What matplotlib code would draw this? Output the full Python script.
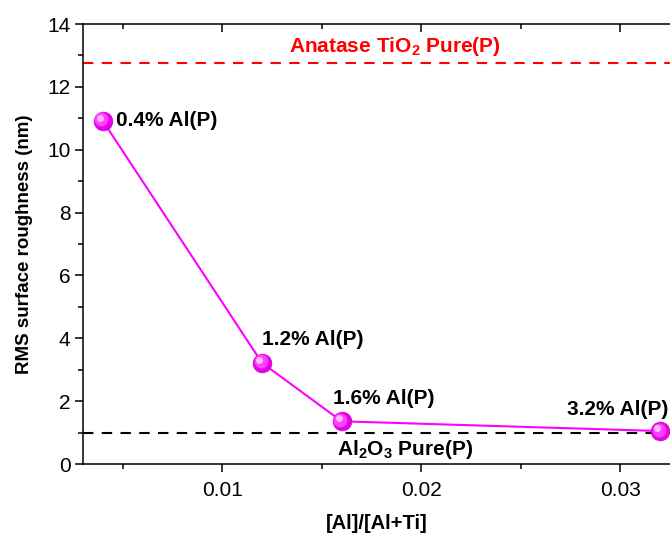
import matplotlib.pyplot as plt
from matplotlib.ticker import MultipleLocator
from matplotlib.transforms import offset_copy

plt.rcParams['font.family'] = ['Liberation Sans', 'DejaVu Sans']
plt.rcParams['mathtext.fontset'] = 'custom'
plt.rcParams['mathtext.rm'] = 'Liberation Sans'
plt.rcParams['mathtext.bf'] = 'Liberation Sans:bold'

# Al fraction and RMS roughness
ratio = [0.004, 0.012, 0.016, 0.032]
rms = [10.92, 3.22, 1.36, 1.05]
labels = ['0.4% Al(P)', '1.2% Al(P)', '1.6% Al(P)', '3.2% Al(P)']
tio2_pure = 12.75
al2o3_pure = 1.0

fig = plt.figure(figsize=(6.7, 5.34), dpi=100)
ax = fig.add_axes([0.124, 0.131, 0.876, 0.824])

ax.axhline(tio2_pure, color='red', ls=(0, (5, 4)), lw=1.5)
ax.axhline(al2o3_pure, color='black', ls=(0, (5, 4)), lw=1.5)

ax.plot(ratio, rms, color='#ff00ff', lw=1.5, marker='o', ms=13.5,
        mfc='#e600e6', mec='#d000d0', mew=0.5, zorder=3)
# shading on the balls, shifted up-left
t1 = offset_copy(ax.transData, fig=fig, x=-1.0, y=1.0, units='points')
ax.plot(ratio, rms, ls='none', marker='o', ms=10, mfc='#ff40ff', mec='none',
        zorder=4, transform=t1)
t2 = offset_copy(ax.transData, fig=fig, x=-2.0, y=2.2, units='points')
ax.plot(ratio, rms, ls='none', marker='o', ms=5, mfc='#ffb8ff', mec='none',
        zorder=5, transform=t2)

# point labels: x, y, ha
lab_x = [0.00467, 0.012, 0.01555, 0.02985]
lab_y = [10.92, 3.95, 2.1, 1.72]
lab_ha = ['left', 'left', 'left', 'center']
for x, y, t, ha in zip(lab_x, lab_y, labels, lab_ha):
    ax.text(x, y, t, fontsize=15, fontweight='bold', ha=ha, va='center')

ax.text(0.0187, 13.28, r'Anatase TiO$_\mathbf{2}$ Pure(P)', color='red', fontsize=15,
        fontweight='bold', ha='center', va='center')
ax.text(0.0192, 0.45, r'Al$_\mathbf{2}$O$_\mathbf{3}$ Pure(P)', color='black', fontsize=15,
        fontweight='bold', ha='center', va='center')

ax.set_xlim(0.00301, 0.0325)
ax.set_ylim(0, 14)
ax.xaxis.set_major_locator(MultipleLocator(0.01))
ax.xaxis.set_minor_locator(MultipleLocator(0.005))
ax.yaxis.set_major_locator(MultipleLocator(2))
ax.yaxis.set_minor_locator(MultipleLocator(1))
ax.tick_params(axis='both', which='major', length=5.5, width=1.1, labelsize=15)
ax.tick_params(axis='both', which='minor', length=3.5, width=1.1)
ax.tick_params(axis='x', which='both', top=True)
ax.tick_params(axis='x', which='major', pad=7)
ax.spines['right'].set_visible(False)
for s in ['left', 'bottom', 'top']:
    ax.spines[s].set_linewidth(1.1)

ax.set_xlabel('[Al]/[Al+Ti]', fontsize=14.5, fontweight='bold', labelpad=10)
ax.set_ylabel('RMS surface roughness (nm)', fontsize=13.5, fontweight='bold', labelpad=10)

fig.canvas.draw()
# top ticks point inward
for tk in ax.xaxis.get_major_ticks() + ax.xaxis.get_minor_ticks():
    tk.tick2line.set_marker(3)

fig.savefig('out.png', dpi=100)
